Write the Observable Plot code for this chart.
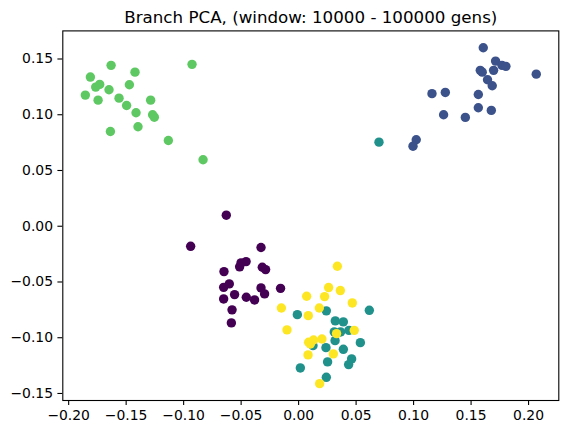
<!DOCTYPE html>
<html>
<head>
<meta charset="utf-8">
<script src="https://cdn.jsdelivr.net/npm/d3@7"></script>
<script src="https://cdn.jsdelivr.net/npm/@observablehq/plot@0.6"></script>
<style>
  html, body { margin: 0; padding: 0; background: white; }
</style>
</head>
<body>
<div id="chart"></div>
<script>
const titleText = "Branch PCA, (window: 10000 - 100000 gens)";
const xTicks = [-0.20, -0.15, -0.10, -0.05, 0.00, 0.05, 0.10, 0.15, 0.20];
const yTicks = [-0.15, -0.10, -0.05, 0.00, 0.05, 0.10, 0.15];

// cluster 0 (purple)
const cluster0 = [
  [-0.0629, 0.0099], [-0.0939, -0.0180], [-0.0327, -0.0191], [-0.0457, -0.0317],
  [-0.0501, -0.0329], [-0.0513, -0.0364], [-0.0316, -0.0368], [-0.0287, -0.0389],
  [-0.0649, -0.0407], [-0.0603, -0.0517], [-0.0652, -0.0548], [-0.0327, -0.0553],
  [-0.0157, -0.0557], [-0.0296, -0.0607], [-0.0557, -0.0613], [-0.0652, -0.0652],
  [-0.0455, -0.0637], [-0.0383, -0.0661], [-0.0579, -0.0750], [-0.0585, -0.0867]
];
// cluster 1 (blue)
const cluster1 = [
  [0.1606, 0.1601], [0.1713, 0.1481], [0.1769, 0.1443], [0.1803, 0.1434],
  [0.1580, 0.1398], [0.1597, 0.1382], [0.1696, 0.1398], [0.2067, 0.1364],
  [0.1643, 0.1314], [0.1684, 0.1260], [0.1160, 0.1189], [0.1276, 0.1200],
  [0.1563, 0.1182], [0.1563, 0.1063], [0.1676, 0.1039], [0.1261, 0.1000],
  [0.1450, 0.0976], [0.1023, 0.0776], [0.0995, 0.0718]
];
// cluster 2 (teal)
const cluster2 = [
  [0.0699, 0.0754], [0.0615, -0.0754], [-0.0011, -0.0793], [0.0241, -0.0759],
  [0.0319, -0.0849], [0.0389, -0.0858], [0.0310, -0.0948], [0.0365, -0.0948],
  [0.0438, -0.0934], [0.0317, -0.1026], [0.0537, -0.1044], [0.0125, -0.1071],
  [0.0238, -0.1089], [0.0389, -0.1104], [0.0252, -0.1217], [0.0461, -0.1190],
  [0.0435, -0.1241], [0.0015, -0.1271], [0.0241, -0.1355]
];
// cluster 3 (green)
const cluster3 = [
  [-0.1631, 0.1443], [-0.0927, 0.1452], [-0.1423, 0.1382], [-0.1811, 0.1338],
  [-0.1472, 0.1269], [-0.1730, 0.1272], [-0.1765, 0.1248], [-0.1649, 0.1224],
  [-0.1855, 0.1176], [-0.1744, 0.1131], [-0.1562, 0.1149], [-0.1496, 0.1083],
  [-0.1287, 0.1131], [-0.1414, 0.1018], [-0.1270, 0.1000], [-0.1255, 0.0978],
  [-0.1397, 0.0892], [-0.1637, 0.0850], [-0.1133, 0.0769], [-0.0831, 0.0596]
];
// cluster 4 (yellow)
const cluster4 = [
  [0.0337, -0.0359], [0.0261, -0.0550], [0.0363, -0.0577], [0.0070, -0.0628],
  [0.0226, -0.0631], [0.0467, -0.0688], [-0.0150, -0.0733], [0.0180, -0.0733],
  [0.0084, -0.0802], [-0.0101, -0.0930], [0.0484, -0.0934], [0.0330, -0.0963],
  [0.0203, -0.1011], [0.0130, -0.1020], [0.0087, -0.1041], [0.0102, -0.1056],
  [0.0302, -0.1145], [0.0082, -0.1154], [0.0183, -0.1412]
];

const clusters = [cluster0, cluster1, cluster3, cluster2, cluster4];
const clusterColors = ["#440154", "#3b528b", "#5ec962", "#21918c", "#fde725"];

const chart = Plot.plot({
  width: 568,
  height: 434,
  marginLeft: 62.3,
  marginRight: 9.7,
  marginTop: 30.4,
  marginBottom: 34,
  style: {
    fontFamily: "DejaVu Sans",
    fontSize: "13.9px",
    color: "black",
    background: "white",
    overflow: "visible"
  },
  x: {domain: [-0.2051, 0.2263], label: null},
  y: {domain: [-0.1563, 0.1752], label: null},
  marks: [
    ...clusters.map((pts, i) =>
      Plot.dot(pts, {x: d => d[0], y: d => d[1], r: 4.7, fill: clusterColors[i], stroke: "none"})
    ),
    Plot.frame({stroke: "black", strokeWidth: 1.1}),
    Plot.axisX(xTicks, {
      tickSize: 4.9, tickPadding: 4.9, strokeWidth: 1.1,
      tickFormat: d3.format(".2f"), fontSize: 13.9, label: null
    }),
    Plot.axisY(yTicks, {
      tickSize: 4.9, tickPadding: 4.9, strokeWidth: 1.1,
      tickFormat: d3.format(".2f"), fontSize: 13.9, label: null
    }),
    Plot.text([titleText], {
      text: d => d, frameAnchor: "top", lineAnchor: "bottom", dy: -8.3,
      fontSize: 16.7, fill: "black"
    })
  ]
});
document.getElementById("chart").appendChild(chart);
</script>
</body>
</html>
